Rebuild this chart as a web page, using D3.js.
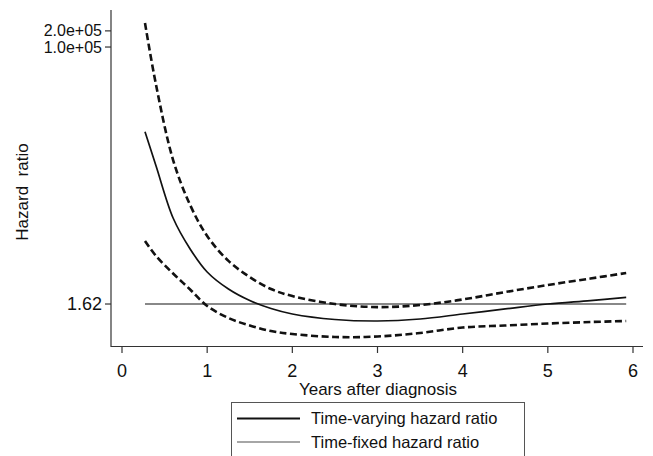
<!DOCTYPE html>
<html>
<head>
<meta charset="utf-8">
<script src="https://cdn.jsdelivr.net/npm/d3@7"></script>
<style>
  body { margin: 0; background: #fff; }
  text { font-family: "Liberation Sans", Arial, sans-serif; fill: #111; }
</style>
</head>
<body>
<div id="chart-area"></div>
<script>
// years after diagnosis
var years = [0.27, 0.4, 0.6, 0.8, 1.0, 1.25, 1.5, 1.75, 2.0, 2.5, 3.0, 3.5, 4.0, 4.5, 5.0, 5.5, 5.92];
var hrVarying = [2636, 605, 64.9, 17.2, 6.40, 3.08, 1.88, 1.335, 1.055, 0.833, 0.781, 0.851, 1.055, 1.31, 1.62, 1.88, 2.16];
var hrUpper = [280000, 19580, 783, 113.5, 30.0, 10.3, 5.16, 3.08, 2.28, 1.62, 1.42, 1.55, 1.97, 2.71, 3.66, 4.84, 6.13];
var hrLower = [24.2, 12.7, 6.0, 3.02, 1.49, 0.888, 0.644, 0.508, 0.447, 0.393, 0.402, 0.467, 0.591, 0.644, 0.702, 0.748, 0.781];
var hrFixed = 1.62;

var xTicks = [0, 1, 2, 3, 4, 5, 6];
var yTicks = [1.62, 1.0e5, 2.0e5];
var yTickLabels = ["1.62", "1.0e+05", "2.0e+05"];
var legendLabels = ["Time-varying hazard ratio", "Time-fixed hazard ratio"];

var svg = d3.select("#chart-area")
    .append("svg")
    .attr("width", 653)
    .attr("height", 456);

var x = d3.scaleLinear()
    .domain([0, 6])
    .range([122, 633]);

var y = d3.scaleLog()
    .domain([0.256, 4.9e5])
    .range([347, 10]);

// axes frame
svg.append("line")
    .attr("x1", 111).attr("x2", 111)
    .attr("y1", 10).attr("y2", 347)
    .attr("stroke", "#333").attr("stroke-width", 1.2);
svg.append("line")
    .attr("x1", 111).attr("x2", 643)
    .attr("y1", 346.5).attr("y2", 346.5)
    .attr("stroke", "#333").attr("stroke-width", 1.2);

// x ticks
var xt = svg.selectAll(".xtick").data(xTicks).enter().append("g")
    .attr("transform", (d) => "translate(" + x(d) + ",0)");
xt.append("line")
    .attr("y1", 347).attr("y2", 353)
    .attr("stroke", "#333").attr("stroke-width", 1.2);
xt.append("text")
    .attr("y", 377)
    .attr("text-anchor", "middle")
    .style("font-size", "18px")
    .text((d) => d);

// y ticks
var yt = svg.selectAll(".ytick").data(yTicks).enter().append("g")
    .attr("transform", (d) => "translate(0," + y(d) + ")");
yt.append("line")
    .attr("x1", 105).attr("x2", 111)
    .attr("stroke", "#333").attr("stroke-width", 1.2);
yt.append("text")
    .attr("x", 102)
    .attr("dy", "0.35em")
    .attr("text-anchor", "end")
    .style("font-size", (d) => d > 10 ? "16px" : "18px")
    .text((d, i) => yTickLabels[i]);

// axis titles
svg.append("text")
    .attr("x", 378).attr("y", 395)
    .attr("text-anchor", "middle")
    .style("font-size", "17px")
    .text("Years after diagnosis");
svg.append("text")
    .attr("transform", "translate(28,192) rotate(-90)")
    .attr("text-anchor", "middle")
    .style("font-size", "17px")
    .style("white-space", "pre")
    .text("Hazard  ratio");

var line = d3.line()
    .x((d) => x(d[0]))
    .y((d) => y(d[1]))
    .curve(d3.curveCatmullRom.alpha(0.5));

// time-fixed reference line
svg.append("line")
    .attr("x1", x(years[0])).attr("x2", x(years[years.length - 1]))
    .attr("y1", y(hrFixed)).attr("y2", y(hrFixed))
    .attr("stroke", "#888").attr("stroke-width", 2);

[hrUpper, hrLower].forEach((s) => {
    svg.append("path")
        .datum(years.map((t, i) => [t, s[i]]))
        .attr("d", line)
        .attr("fill", "none")
        .attr("stroke", "#111")
        .attr("stroke-width", 2.6)
        .attr("stroke-dasharray", "7,3.5");
});

svg.append("path")
    .datum(years.map((t, i) => [t, hrVarying[i]]))
    .attr("d", line)
    .attr("fill", "none")
    .attr("stroke", "#111")
    .attr("stroke-width", 1.7);

// legend
svg.append("rect")
    .attr("x", 231.5).attr("y", 402.5)
    .attr("width", 293).attr("height", 70)
    .attr("fill", "#fff")
    .attr("stroke", "#555").attr("stroke-width", 1);

var lg = svg.selectAll(".lg").data(legendLabels).enter().append("g")
    .attr("transform", (d, i) => "translate(0," + (418.5 + i * 23.5) + ")");
lg.append("line")
    .attr("x1", 237).attr("x2", 300)
    .attr("stroke", (d, i) => i === 0 ? "#111" : "#888")
    .attr("stroke-width", (d, i) => i === 0 ? 1.8 : 1.4);
lg.append("text")
    .attr("x", 311)
    .attr("dy", "0.35em")
    .style("font-size", "16.5px")
    .text((d) => d);
</script>
</body>
</html>
